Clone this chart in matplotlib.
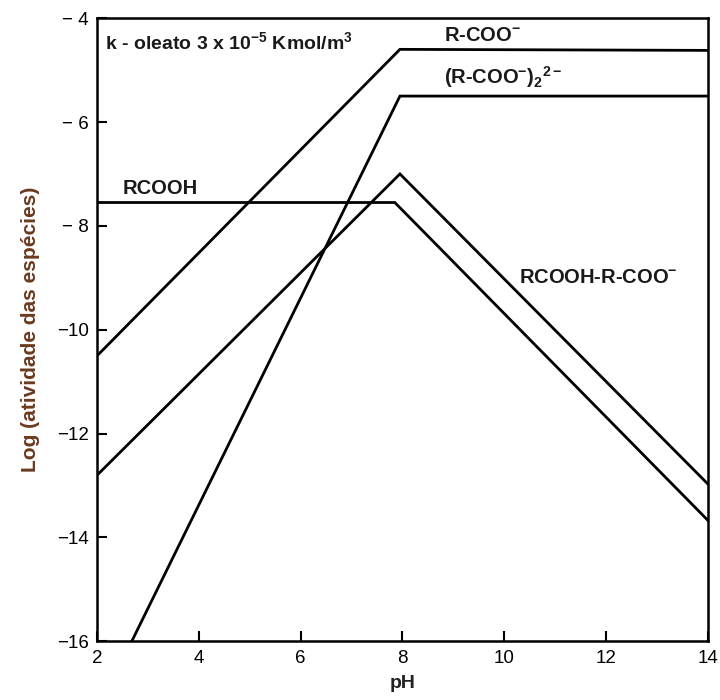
import numpy as np
import matplotlib
matplotlib.use("Agg")
import matplotlib.pyplot as plt

plt.rcParams['font.family'] = ['Liberation Sans', 'DejaVu Sans']
plt.rcParams['mathtext.fontset'] = 'custom'
plt.rcParams['mathtext.rm'] = 'Liberation Sans'
plt.rcParams['mathtext.bf'] = 'Liberation Sans:bold'

# species lines (pH, log activity)
rcoo_ph = [2.0, 7.95, 14.0]
rcoo_log = [-10.5, -4.6, -4.62]

dimer_ph = [2.68, 7.95, 14.0]
dimer_log = [-16.0, -5.5, -5.5]

rcooh_ph = [2.0, 7.85, 14.0]
rcooh_log = [-7.55, -7.55, -13.67]

acid_soap_ph = [2.0, 7.95, 14.0]
acid_soap_log = [-12.8, -7.0, -12.97]

x_ticks = [2, 4, 6, 8, 10, 12, 14]
y_ticks = [-16, -14, -12, -10, -8, -6, -4]
y_tick_labels = ['\u221216', '\u221214', '\u221212', '\u221210', '\u2212 8', '\u2212 6', '\u2212 4']

fig = plt.figure(figsize=(7.2, 7.0), dpi=100)
ax = fig.add_axes([0.135, 0.084, 0.848, 0.89])

for xs, ys in [(rcoo_ph, rcoo_log), (dimer_ph, dimer_log),
               (rcooh_ph, rcooh_log), (acid_soap_ph, acid_soap_log)]:
    ax.plot(xs, ys, color='black', lw=2.0, solid_joinstyle='miter')

ax.set_xlim(2, 14)
ax.set_ylim(-16, -4)
ax.set_xticks(x_ticks)
ax.set_yticks(y_ticks)
ax.set_yticklabels(y_tick_labels)
ax.tick_params(direction='in', length=7, width=1.5, labelsize=13.5, pad=6)
for sp in ax.spines.values():
    sp.set_linewidth(1.8)

ax.set_xlabel('pH', fontsize=14, fontweight='bold', color='#222222', labelpad=6)
ax.set_ylabel('Log (atividade das esp\u00e9cies)', fontsize=15, fontweight='bold',
              color='#6b3a1f', labelpad=12)

txt = dict(fontweight='bold', color='#1a1a1a', va='center', ha='left')
ax.text(2.16, -4.48, r'k - oleato 3 x 10$^{\mathbf{-5}}$ Kmol/m$^{\mathbf{3}}$', fontsize=14, **txt)
ax.text(8.81, -4.33, r'R-COO$^{\mathbf{-}}$', fontsize=14.5, **txt)
ax.text(8.81, -5.13, r'(R-COO$^{\mathbf{-}}$)$_{\mathbf{2}}$$^{\mathbf{2-}}$', fontsize=14.5, **txt)
ax.text(2.5, -7.28, 'RCOOH', fontsize=14.5, **txt)
ax.text(10.29, -8.99, r'RCOOH-R-COO$^{\mathbf{-}}$', fontsize=14.5, **txt)

fig.savefig('out.png', dpi=100)
